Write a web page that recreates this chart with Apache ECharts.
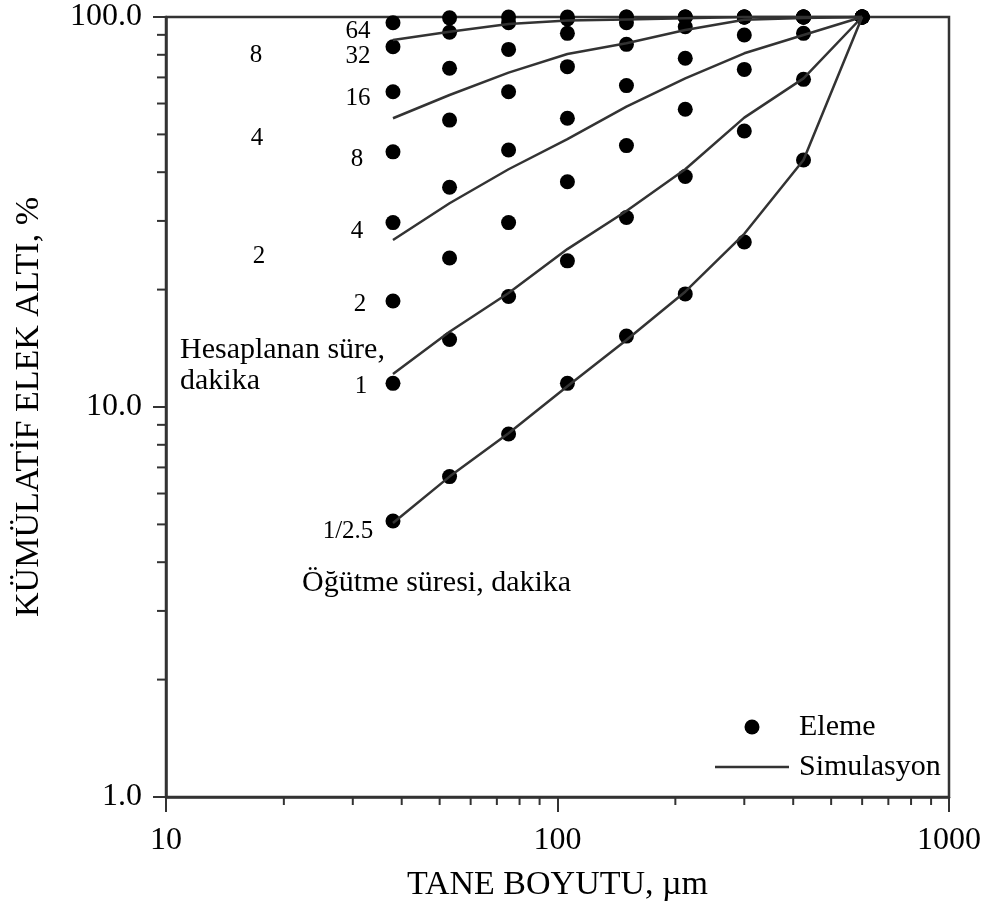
<!DOCTYPE html>
<html>
<head>
<meta charset="utf-8">
<script src="https://cdn.jsdelivr.net/npm/echarts@6/dist/echarts.min.js"></script>
<style>
html,body{margin:0;padding:0;background:#fff;}
#chart{width:987px;height:902px;}
</style>
</head>
<body>
<div id="chart"></div>
<script>
// Particle sizes (µm)
const sizes = [38, 53, 75, 106, 150, 212, 300, 425, 600];

// Sieving (Eleme) cumulative undersize, % for each grinding time
const sieve64  = [96.7, 99.5, 100, 100, 100, 100, 100, 100, 100];
const sieve32  = [83.9, 91.4, 96.7, 98.8, 100, 100, 100, 100, 100];
const sieve16  = [64.3, 73.9, 82.6, 90.8, 96.7, 100, 100, 100, 100];
const sieve8   = [45.1, 54.4, 64.3, 74.6, 85.1, 94.4, 100, 100, 100];
const sieve4   = [29.7, 36.6, 45.6, 55.0, 66.7, 78.4, 89.9, 100, 100];
const sieve2   = [18.7, 24.1, 29.7, 37.8, 46.8, 58.0, 73.4, 90.8, 100];
const sieve1   = [11.5, 14.9, 19.2, 23.7, 30.6, 39.0, 51.0, 69.2, 100];
const sieve04  = [5.10, 6.63, 8.53, 11.5, 15.2, 19.5, 26.5, 43.0, 100];

// Simulation (Simulasyon) curves
const sim1 = [87.3, 91.7, 96.0, 97.9, 98.6, 99.3, 100, 100, 100];
const sim2 = [55.0, 63.1, 72.0, 80.4, 85.6, 92.6, 98.4, 99.4, 100];
const sim3 = [26.8, 33.3, 40.7, 48.6, 58.9, 69.6, 80.7, 89.9, 100];
const sim4 = [12.15, 15.6, 19.6, 25.4, 31.8, 40.7, 55.2, 69.6, 100];
const sim5 = [5.04, 6.63, 8.56, 11.3, 14.85, 19.75, 27.8, 43.0, 100];

// Axis minor tick values
const xMinor = [20, 30, 40, 50, 60, 70, 80, 90, 200, 300, 400, 500, 600, 700, 800, 900];
const yMinor = [2, 3, 4, 5, 6, 7, 8, 9, 20, 30, 40, 50, 60, 70, 80, 90];

const FONT = "'Liberation Serif', 'Times New Roman', serif";
const AX = '#333';

const sieveSets = [sieve64, sieve32, sieve16, sieve8, sieve4, sieve2, sieve1, sieve04];
const simSets = [sim1, sim2, sim3, sim4, sim5];
const pairs = arr => sizes.map((s, i) => [s, arr[i]]);

const series = [];
simSets.forEach(arr => {
  series.push({
    name: 'Simulasyon', type: 'line', data: pairs(arr),
    symbol: 'none', showSymbol: false, clip: false, z: 5,
    lineStyle: { color: '#333', width: 2.5 }, itemStyle: { color: '#333' },
    silent: true, animation: false
  });
});
sieveSets.forEach(arr => {
  series.push({
    name: 'Eleme', type: 'scatter', data: pairs(arr),
    symbol: 'circle', symbolSize: 15, clip: false, z: 3,
    itemStyle: { color: '#000', opacity: 1 }, silent: true, animation: false
  });
});
series.push({
  type: 'custom', data: xMinor.map(v => [v, 1]), clip: false, silent: true, z: 10,
  renderItem: (params, api) => {
    const p = api.coord([api.value(0), api.value(1)]);
    return { type: 'line', shape: { x1: p[0], y1: p[1], x2: p[0], y2: p[1] + 8 },
      style: { stroke: AX, lineWidth: 2 } };
  }, animation: false
});
series.push({
  type: 'custom', data: yMinor.map(v => [10, v]), clip: false, silent: true, z: 10,
  renderItem: (params, api) => {
    const p = api.coord([api.value(0), api.value(1)]);
    return { type: 'line', shape: { x1: p[0], y1: p[1], x2: p[0] - 9, y2: p[1] },
      style: { stroke: AX, lineWidth: 2 } };
  }, animation: false
});

function txt(text, x, y, size, align) {
  return { type: 'text', x: x, y: y, z: 20, silent: true,
    style: { text: text, font: size + 'px ' + FONT, fill: '#000',
      textAlign: align || 'center', textVerticalAlign: 'middle' } };
}

const option = {
  backgroundColor: '#fff',
  animation: false,
  grid: { left: 166, right: 38, top: 17, bottom: 105, show: true,
    containLabel: false, outerBoundsMode: 'none',
    borderColor: AX, borderWidth: 2.5, backgroundColor: 'transparent' },
  xAxis: {
    type: 'log', logBase: 10, min: 10, max: 1000,
    name: 'TANE BOYUTU, µm', nameLocation: 'middle', nameGap: 71,
    nameTextStyle: { fontFamily: FONT, fontSize: 34, color: '#000' },
    axisLine: { lineStyle: { color: AX, width: 2.5 } },
    axisTick: { show: true, length: 15, inside: false, lineStyle: { color: AX, width: 2 } },
    axisLabel: { fontFamily: FONT, fontSize: 32, color: '#000', margin: 28,
      formatter: v => String(Math.round(v)) },
    splitLine: { show: false }, minorTick: { show: false }
  },
  yAxis: {
    type: 'log', logBase: 10, min: 1, max: 100,
    name: 'KÜMÜLATİF ELEK ALTI, %', nameLocation: 'middle', nameGap: 120,
    nameTextStyle: { fontFamily: FONT, fontSize: 34, color: '#000' },
    axisLine: { lineStyle: { color: AX, width: 2.5 } },
    axisTick: { show: true, length: 13, inside: false, lineStyle: { color: AX, width: 2 } },
    axisLabel: { fontFamily: FONT, fontSize: 32, color: '#000', margin: 24,
      formatter: v => Number(v).toFixed(1) },
    splitLine: { show: false }, minorTick: { show: false }
  },
  legend: {
    data: [
      { name: 'Eleme', icon: 'circle', itemStyle: { color: '#000', opacity: 1 } },
      { name: 'Simulasyon', icon: 'path://M0 0H100V3.2H0Z', itemStyle: { color: '#333' } }
    ],
    orient: 'vertical', left: 710, top: 703, itemWidth: 74, itemHeight: 15, itemGap: 2,
    selectedMode: false,
    textStyle: { fontFamily: FONT, fontSize: 30, color: '#000', lineHeight: 38, padding: [0, 0, 0, 5] }
  },
  graphic: [
    txt('64', 358, 31, 25),
    txt('32', 358, 56, 25),
    txt('16', 358, 98, 25),
    txt('8', 357, 159, 25),
    txt('4', 357, 231, 25),
    txt('2', 360, 304, 25),
    txt('1', 361, 386, 25),
    txt('1/2.5', 348, 531, 25),
    txt('8', 256, 55, 25),
    txt('4', 257, 138, 25),
    txt('2', 259, 256, 25),
    txt('Hesaplanan süre,', 180, 350, 30, 'left'),
    txt('dakika', 180, 381, 30, 'left'),
    txt('Öğütme süresi, dakika', 302, 583, 30, 'left')
  ],
  series: series
};

const chart = echarts.init(document.getElementById('chart'), null, { renderer: 'canvas' });
chart.setOption(option);
</script>
</body>
</html>
